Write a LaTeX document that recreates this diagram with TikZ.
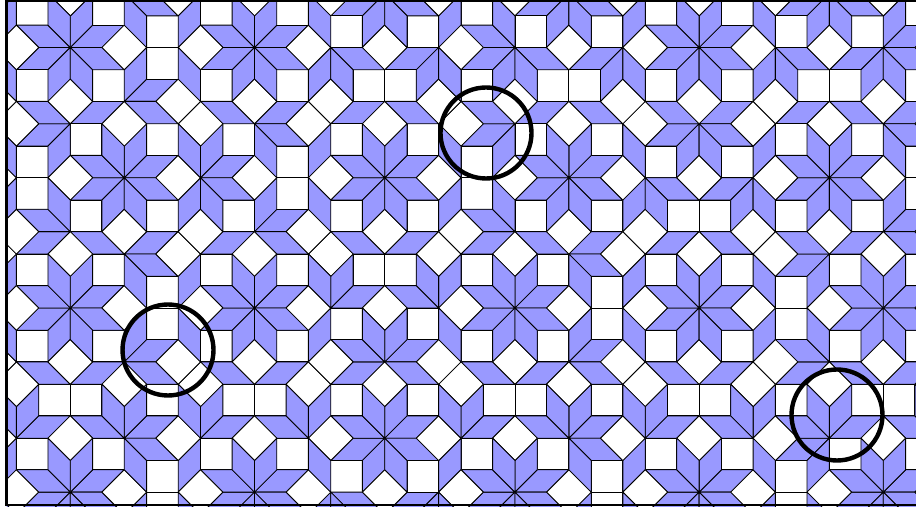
\documentclass[tikz,border=0pt]{standalone}
\definecolor{rhombblue}{RGB}{153,153,255}
\tikzset{
  tileedge/.style={draw=black, line width=0.85pt, line join=round},
  rhombtile/.style={tileedge, fill=rhombblue},
  squaretile/.style={tileedge, fill=white},
  framelines/.style={draw=black, line width=2.4pt},
  ringmark/.style={draw=black, line width=4.4pt},
}
\def\cc{0.707107}
\def\ga{0.1234}\def\gb{0.3871}\def\gc{0.6153}\def\gd{0.2419}
\begin{document}
\begin{tikzpicture}[x=1pt,y=1pt]
\useasboundingbox (0,0) rectangle (916,509);
\begin{scope}
\clip (6.5,3) rectangle (916,509);
\begin{scope}[shift={(461,255)}, x=31.6pt, y=31.6pt]
\foreach \j/\k/\cj/\sj/\ck/\sk/\dt/\st in {
 0/1/1/0/0.707107/0.707107/0.707107/rhombtile,
 0/2/1/0/0/1/1/squaretile,
 0/3/1/0/-0.707107/0.707107/0.707107/rhombtile,
 1/2/0.707107/0.707107/0/1/0.707107/rhombtile,
 1/3/0.707107/0.707107/-0.707107/0.707107/1/squaretile,
 2/3/0/1/-0.707107/0.707107/0.707107/rhombtile}{
  \edef\gj{\ifcase\j\space\ga\or\gb\or\gc\or\gd\fi}
  \edef\gk{\ifcase\k\space\ga\or\gb\or\gc\or\gd\fi}
  \foreach \nj in {-11,...,11}{
    \foreach \nk in {-11,...,11}{
      \pgfmathsetmacro\aa{\nj+\gj}
      \pgfmathsetmacro\bb{\nk+\gk}
      \pgfmathsetmacro\xx{(\aa*\sk-\bb*\sj)/\dt}
      \pgfmathsetmacro\yy{(\bb*\cj-\aa*\ck)/\dt}
      \pgfmathsetmacro\inside{(abs(\xx)<9.3)&&(abs(\yy)<6.0)}
      \ifdim\inside pt>0.5pt
        \pgfmathtruncatemacro\Ka{ceil(\xx-\ga)}
        \pgfmathtruncatemacro\Kb{ceil(\cc*(\xx+\yy)-\gb)}
        \pgfmathtruncatemacro\Kc{ceil(\yy-\gc)}
        \pgfmathtruncatemacro\Kd{ceil(\cc*(\yy-\xx)-\gd)}
        \ifcase\j \let\Ka\nj \or \let\Kb\nj \or \let\Kc\nj \or \let\Kd\nj \fi
        \ifcase\k \let\Ka\nk \or \let\Kb\nk \or \let\Kc\nk \or \let\Kd\nk \fi
        \pgfmathsetmacro\px{\Ka+\cc*(\Kb-\Kd)}
        \pgfmathsetmacro\py{\Kc+\cc*(\Kb+\Kd)}
        \pgfmathsetmacro\qx{\px+\ck}
        \pgfmathsetmacro\qy{\py+\sk}
        \path[\st] (\px,\py) -- ++(\cj,\sj) -- ++(\ck,\sk) -- (\qx,\qy) -- cycle;
      \fi
    }
  }
}
\end{scope}
\end{scope}
\draw[framelines] (6.5,509) -- (6.5,4);
\draw[framelines] (5.3,4) -- (916,4);
\draw[framelines] (5.3,508.6) -- (916,508.6);
\node[ringmark, circle, minimum size=91pt, inner sep=0pt] (ringa) at (486,376) {};
\node[ringmark, circle, minimum size=91pt, inner sep=0pt] (ringb) at (168,159) {};
\node[ringmark, circle, minimum size=91pt, inner sep=0pt] (ringc) at (837,94) {};
\end{tikzpicture}
\end{document}
